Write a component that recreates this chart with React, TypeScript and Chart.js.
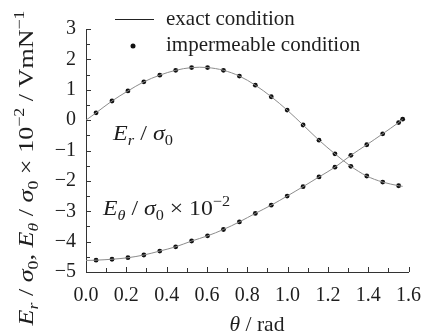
import React, { useEffect, useRef } from "react";
import { Chart, registerables } from "chart.js";

Chart.register(...registerables);

// θ positions (rad) of the markers
const thetaDots = [0.05, 0.129, 0.208, 0.287, 0.366, 0.445, 0.524, 0.603, 0.682, 0.761, 0.84, 0.919, 0.998, 1.077, 1.156, 1.235, 1.314, 1.393, 1.472, 1.551];
const thetaDotsTheta = [0.05, 0.129, 0.208, 0.287, 0.366, 0.445, 0.524, 0.603, 0.682, 0.761, 0.84, 0.919, 0.998, 1.077, 1.156, 1.235, 1.314, 1.393, 1.472, 1.551, 1.571];
// impermeable condition (markers)
const erImpermeable = [0.24, 0.63, 0.96, 1.26, 1.48, 1.64, 1.73, 1.73, 1.64, 1.45, 1.15, 0.77, 0.33, -0.16, -0.66, -1.11, -1.52, -1.84, -2.04, -2.16];
const ethImpermeable = [-4.61, -4.58, -4.53, -4.44, -4.31, -4.17, -3.98, -3.81, -3.6, -3.35, -3.07, -2.8, -2.5, -2.19, -1.87, -1.55, -1.16, -0.81, -0.45, -0.08, 0.03];
// exact condition (curves)
const thetaExact = [0, 0.05, 0.129, 0.208, 0.287, 0.366, 0.445, 0.524, 0.603, 0.682, 0.761, 0.84, 0.919, 0.998, 1.077, 1.156, 1.235, 1.314, 1.393, 1.472, 1.551, 1.571];
const erExact = [0.0, 0.24, 0.63, 0.96, 1.26, 1.48, 1.64, 1.73, 1.73, 1.64, 1.45, 1.15, 0.77, 0.33, -0.16, -0.66, -1.11, -1.52, -1.84, -2.04, -2.16, -2.18];
const ethExact = [-4.62, -4.61, -4.58, -4.53, -4.44, -4.31, -4.17, -3.98, -3.81, -3.6, -3.35, -3.07, -2.8, -2.5, -2.19, -1.87, -1.55, -1.16, -0.81, -0.45, -0.08, 0.03];

const xTicksMin = 0;
const xTicksMax = 1.6;
const yTicksMin = -5;
const yTicksMax = 3;

const legendLabels = ["exact condition", "impermeable condition"];

const FAMILY = '"Liberation Serif", "DejaVu Serif", "Times New Roman", serif';
const TEXT = "#1e1e1e";

type Seg = { t: string; it?: boolean; s?: "sub" | "sup" };

function drawRich(ctx: CanvasRenderingContext2D, segs: Seg[], x: number, y: number, size: number, align: "left" | "center" = "left", targetWidth?: number) {
  const fontFor = (seg: Seg) => `${seg.it ? "italic " : ""}${seg.s ? Math.round(size * 0.7) : size}px ${FAMILY}`;
  let total = 0;
  const widths = segs.map((seg) => {
    ctx.font = fontFor(seg);
    const w = ctx.measureText(seg.t).width;
    total += w;
    return w;
  });
  const k = targetWidth ? targetWidth / total : 1;
  ctx.save();
  const startX = align === "center" ? x - (total * k) / 2 : x;
  ctx.translate(startX, y);
  ctx.scale(k, 1);
  let cx = 0;
  ctx.fillStyle = TEXT;
  ctx.textBaseline = "alphabetic";
  ctx.textAlign = "left";
  segs.forEach((seg, i) => {
    ctx.font = fontFor(seg);
    const dy = seg.s === "sub" ? size * 0.22 : seg.s === "sup" ? -size * 0.42 : 0;
    ctx.fillText(seg.t, cx, dy);
    cx += widths[i];
  });
  ctx.restore();
}

const annEr: Seg[] = [{ t: "E", it: true }, { t: "r", it: true, s: "sub" }, { t: " / " }, { t: "σ", it: true }, { t: "0", s: "sub" }];
const annEth: Seg[] = [{ t: "E", it: true }, { t: "θ", it: true, s: "sub" }, { t: " / " }, { t: "σ", it: true }, { t: "0", s: "sub" }, { t: " × 10" }, { t: "−2", s: "sup" }];
const yTitle: Seg[] = [
  { t: "E", it: true }, { t: "r", it: true, s: "sub" }, { t: " / " }, { t: "σ", it: true }, { t: "0", s: "sub" }, { t: ", " },
  { t: "E", it: true }, { t: "θ", it: true, s: "sub" }, { t: " / " }, { t: "σ", it: true }, { t: "0", s: "sub" },
  { t: " × 10" }, { t: "−2", s: "sup" }, { t: " / VmN" }, { t: "−1", s: "sup" },
];
const xTitle: Seg[] = [{ t: "θ", it: true }, { t: " / rad" }];

const decorPlugin = {
  id: "decor",
  afterDraw(chart: any) {
    const ctx: CanvasRenderingContext2D = chart.ctx;
    const xs = chart.scales.x;
    const ys = chart.scales.y;
    const { left, bottom } = chart.chartArea;
    ctx.save();
    // inward ticks
    ctx.strokeStyle = "#333";
    ctx.lineWidth = 1;
    ctx.beginPath();
    for (let i = 0; i <= 16; i++) {
      const px = Math.round(xs.getPixelForValue(i / 10)) + 0.5;
      const len = i % 2 === 0 ? 5 : 4;
      ctx.moveTo(px, bottom);
      ctx.lineTo(px, bottom - len);
    }
    for (let i = 0; i <= 16; i++) {
      const v = yTicksMin + i * 0.5;
      const py = Math.round(ys.getPixelForValue(v)) + 0.5;
      const len = i % 2 === 0 ? 5 : 4;
      ctx.moveTo(left, py);
      ctx.lineTo(left + len, py);
    }
    ctx.stroke();

    // legend
    ctx.strokeStyle = "#222";
    ctx.lineWidth = 1;
    ctx.beginPath();
    ctx.moveTo(115, 19.5);
    ctx.lineTo(154, 19.5);
    ctx.stroke();
    ctx.fillStyle = "#111";
    ctx.beginPath();
    ctx.arc(133, 46, 2.5, 0, Math.PI * 2);
    ctx.fill();
    drawRich(ctx, [{ t: legendLabels[0] }], 166, 25, 21);
    drawRich(ctx, [{ t: legendLabels[1] }], 166, 51, 21);

    // annotations
    drawRich(ctx, annEr, 113, 140, 22, "left", 60);
    drawRich(ctx, annEth, 103, 215, 22, "left", 127);

    // axis titles
    drawRich(ctx, xTitle, 257, 331, 21, "center", 55);
    ctx.save();
    ctx.translate(33, 168);
    ctx.rotate(-Math.PI / 2);
    drawRich(ctx, yTitle, 0, 0, 22, "center", 315);
    ctx.restore();

    ctx.restore();
  },
};

export default function App() {
  const ref = useRef<HTMLCanvasElement | null>(null);
  useEffect(() => {
    if (!ref.current) return;
    const toXY = (xs: number[], ys: number[]) => xs.map((x, i) => ({ x, y: ys[i] }));
    const chart = new Chart(ref.current, {
      type: "scatter",
      data: {
        datasets: [
          { label: "Er exact", data: toXY(thetaExact, erExact), showLine: true, borderColor: "#8c8c8c", borderWidth: 1, pointRadius: 0, tension: 0.35 },
          { label: "Eθ exact", data: toXY(thetaExact, ethExact), showLine: true, borderColor: "#8c8c8c", borderWidth: 1, pointRadius: 0, tension: 0.35 },
          { label: "Er impermeable", data: toXY(thetaDots, erImpermeable), showLine: false, pointRadius: 2.4, pointBackgroundColor: "#111", pointBorderWidth: 0 },
          { label: "Eθ impermeable", data: toXY(thetaDotsTheta, ethImpermeable), showLine: false, pointRadius: 2.4, pointBackgroundColor: "#111", pointBorderWidth: 0 },
        ],
      },
      options: {
        responsive: false,
        animation: false,
        events: [],
        layout: { padding: { left: 0, right: 18, top: 29, bottom: 0 } },
        plugins: { legend: { display: false }, tooltip: { enabled: false } },
        scales: {
          x: {
            type: "linear",
            min: xTicksMin,
            max: xTicksMax,
            afterFit: (s: any) => { s.height = 64; },
            grid: { display: true, drawOnChartArea: false, drawTicks: false },
            border: { display: true, color: "#333", width: 1 },
            ticks: {
              stepSize: 0.2,
              padding: 12,
              color: TEXT,
              font: { family: FAMILY, size: 20 },
              maxRotation: 0,
              callback: (v: any) => Number(v).toFixed(1),
            },
          },
          y: {
            type: "linear",
            min: yTicksMin,
            max: yTicksMax,
            afterFit: (s: any) => { s.width = 86; },
            grid: { display: true, drawOnChartArea: false, drawTicks: false },
            border: { display: true, color: "#333", width: 1 },
            ticks: {
              stepSize: 1,
              padding: 10,
              color: TEXT,
              font: { family: FAMILY, size: 20 },
              callback: (v: any) => String(v).replace("-", "−"),
            },
          },
        },
      },
      plugins: [decorPlugin],
    } as any);
    return () => chart.destroy();
  }, []);
  return (
    <div style={{ position: "absolute", left: 0, top: 0, width: 433, height: 336, background: "#fff" }}>
      <canvas ref={ref} width={433} height={336} style={{ display: "block" }} />
    </div>
  );
}
